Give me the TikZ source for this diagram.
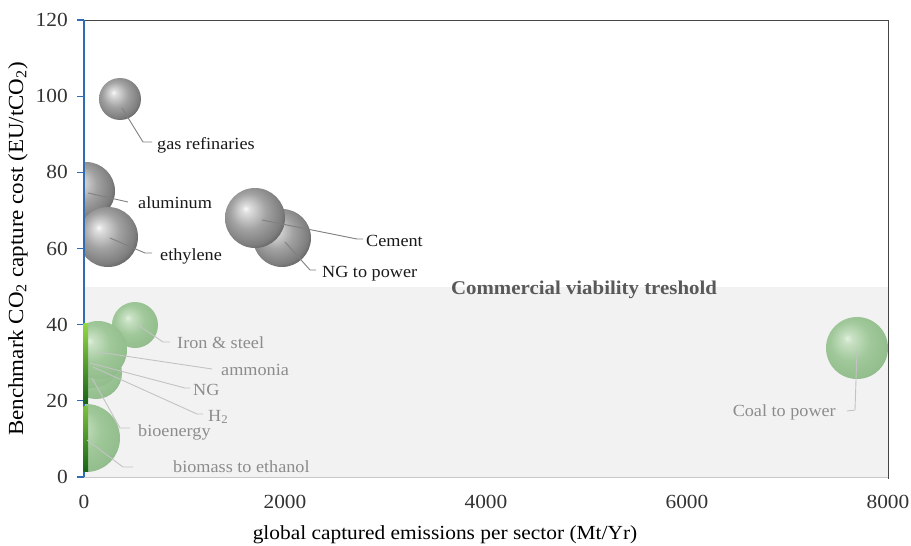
\documentclass[tikz,border=0pt]{standalone}
\usepackage{fontspec}
\setmainfont[FakeStretch=1.07]{Liberation Serif}
\definecolor{shadecol}{RGB}{242,242,242}
\definecolor{framecol}{RGB}{70,70,70}
\definecolor{basecol}{RGB}{200,200,200}
\definecolor{axisblue}{RGB}{46,109,180}
\definecolor{threshcol}{RGB}{89,89,89}
\definecolor{lblgrey}{RGB}{140,140,140}
\definecolor{leaddark}{RGB}{128,128,128}
\definecolor{leadlight}{RGB}{195,195,195}
\definecolor{gHi}{RGB}{226,240,222}
\definecolor{gMid}{RGB}{160,200,154}
\definecolor{gEdge}{RGB}{118,166,112}
\definecolor{sHi}{RGB}{250,250,250}
\definecolor{sMid}{RGB}{162,162,162}
\definecolor{sEdge}{RGB}{72,72,72}
\definecolor{stripA}{RGB}{150,215,70}
\definecolor{stripB}{RGB}{25,100,25}
\pgfdeclareradialshading{gball}{\pgfpoint{-8bp}{8bp}}{color(0bp)=(gHi); color(4bp)=(gHi!60!gMid); color(16bp)=(gMid); color(28bp)=(gMid!70!gEdge); color(34bp)=(gEdge); color(50bp)=(gEdge)}
\pgfdeclareradialshading{sball}{\pgfpoint{-8bp}{8bp}}{color(0bp)=(sHi); color(3bp)=(sHi!70!sMid); color(15bp)=(sMid); color(26bp)=(sMid!60!sEdge); color(34bp)=(sEdge); color(50bp)=(sEdge)}
\tikzset{
  gb/.style={circle, inner sep=0pt, shading=gball},
  sb/.style={circle, inner sep=0pt, shading=sball},
  lbl/.style={font=\fontsize{17}{20}\selectfont, inner sep=0pt, anchor=base west},
  lbldark/.style={lbl, text=black!90},
  lbllight/.style={lbl, text=lblgrey},
  leadd/.style={draw=leaddark, line width=0.9pt},
  leadl/.style={draw=leadlight, line width=0.9pt},
  ticklbl/.style={font=\fontsize{20}{24}\selectfont, text=black!80, inner sep=0pt},
  axislbl/.style={font=\fontsize{20}{24}\selectfont, text=black, inner sep=0pt}
}
\begin{document}
\begin{tikzpicture}[x=1pt,y=-1pt]
\useasboundingbox (0,0) rectangle (911,546);
% shaded zone
\fill[shadecol] (84,287) rectangle (888,477);
\draw[basecol, line width=1pt] (84,477) -- (888,477);
\draw[framecol, line width=1pt] (84,20) -- (888,20) -- (888,479);
\node[font=\bfseries\fontsize{19.5}{23}\selectfont, text=threshcol, inner sep=0pt] (thresh) at (584,290) {Commercial viability treshold};
% bubbles
\begin{scope}
\clip (84,20) rectangle (888,477);
\node[sb, minimum size=42pt] (gas) at (120,99) {};
\node[sb, minimum size=58pt] (alu) at (86,191) {};
\node[sb, minimum size=60pt] (eth) at (108,237) {};
\node[sb, minimum size=58pt] (ngp) at (282,238) {};
\node[sb, minimum size=60pt] (cem) at (255,218) {};
\node[gb, minimum size=46pt] (iron) at (135,325) {};
\node[gb, minimum size=68pt] (bio) at (86,438) {};
\node[gb, minimum size=52pt] (bioen) at (96,373) {};
\node[gb, minimum size=44pt] (h2) at (90,366) {};
\node[gb, minimum size=50pt] (ng) at (94,362) {};
\node[gb, minimum size=58pt] (amm) at (98,350) {};
\node[gb, minimum size=62pt] (coal) at (857,348) {};
\end{scope}
% axis
\draw[axisblue, line width=1.2pt] (84,20) -- (84,477);
\foreach \v in {0,20,...,120} {
  \draw[axisblue, line width=1.2pt] (77,{477-\v*3.808}) -- (84,{477-\v*3.808});
  \node[ticklbl, anchor=east] (yt\v) at (68,{477-\v*3.808}) {\v};
}
\foreach \v in {0,2000,4000,6000,8000} {
  \node[ticklbl] (xt\v) at ({84+\v*0.1005},502) {\v};
}
\shade[top color=stripA, bottom color=stripB] (83.5,323) rectangle (88,403);
\shade[top color=stripA!80!stripB, bottom color=stripB] (83.5,406) rectangle (88,471);
% axis labels
\node[axislbl] (xlab) at (445,535) {global captured emissions per sector (Mt/Yr)};
\node[axislbl, font=\fontsize{21.5}{25}\selectfont, rotate=90] (ylab) at (18,249) {Benchmark CO\textsubscript{2} capture cost (EU/tCO\textsubscript{2})};
% labels
\node[lbldark] (Lgas) at (157,149) {gas refinaries};
\node[lbldark] (Lalu) at (138,208) {aluminum};
\node[lbldark] (Leth) at (160,260) {ethylene};
\node[lbldark] (Lcem) at (366,246) {Cement};
\node[lbldark] (Lngp) at (322,277) {NG to power};
\node[lbllight] (Liron) at (177,348) {Iron \& steel};
\node[lbllight] (Lamm) at (221,375) {ammonia};
\node[lbllight] (Lng) at (193,395) {NG};
\node[lbllight] (Lh2) at (208,421) {H\textsubscript{2}};
\node[lbllight] (Lbioen) at (138,436) {bioenergy};
\node[lbllight] (Lbio) at (173,472) {biomass to ethanol};
\node[lbllight, anchor=base east] (Lcoal) at (836,416) {Coal to power};
% leader lines
\coordinate (gasA) at (122,108); \coordinate (gasB) at (143,142); \coordinate (gasC) at (152,142);
\draw[leadd] (gasA) -- (gasB) -- (gasC);
\coordinate (aluA) at (88,193); \coordinate (aluB) at (128,202);
\draw[leadd] (aluA) -- (aluB);
\coordinate (ethA) at (110,238); \coordinate (ethB) at (145,253); \coordinate (ethC) at (152,253);
\draw[leadd] (ethA) -- (ethB) -- (ethC);
\coordinate (cemA) at (262,220); \coordinate (cemB) at (357,239); \coordinate (cemC) at (363,239);
\draw[leadd] (cemA) -- (cemB) -- (cemC);
\coordinate (ngpA) at (285,242); \coordinate (ngpB) at (310,270); \coordinate (ngpC) at (316,270);
\draw[leadd] (ngpA) -- (ngpB) -- (ngpC);
\coordinate (ironA) at (138,325); \coordinate (ironB) at (163,342); \coordinate (ironC) at (170,342);
\draw[leadl] (ironA) -- (ironB) -- (ironC);
\coordinate (ammA) at (98,352); \coordinate (ammB) at (212,369);
\draw[leadl] (ammA) -- (ammB);
\coordinate (ngA) at (90,363); \coordinate (ngB) at (185,388); \coordinate (ngC) at (190,388);
\draw[leadl] (ngA) -- (ngB) -- (ngC);
\coordinate (h2A) at (93,367); \coordinate (h2B) at (197,414); \coordinate (h2C) at (203,414);
\draw[leadl] (h2A) -- (h2B) -- (h2C);
\coordinate (bioenA) at (92,378); \coordinate (bioenB) at (120,428); \coordinate (bioenC) at (130,428);
\draw[leadl] (bioenA) -- (bioenB) -- (bioenC);
\coordinate (bioA) at (87,440); \coordinate (bioB) at (123,467); \coordinate (bioC) at (133,467);
\draw[leadl] (bioA) -- (bioB) -- (bioC);
\coordinate (coalA) at (857,350); \coordinate (coalB) at (855,410); \coordinate (coalC) at (847,411);
\draw[leadl] (coalA) -- (coalB) -- (coalC);
\end{tikzpicture}
\end{document}
